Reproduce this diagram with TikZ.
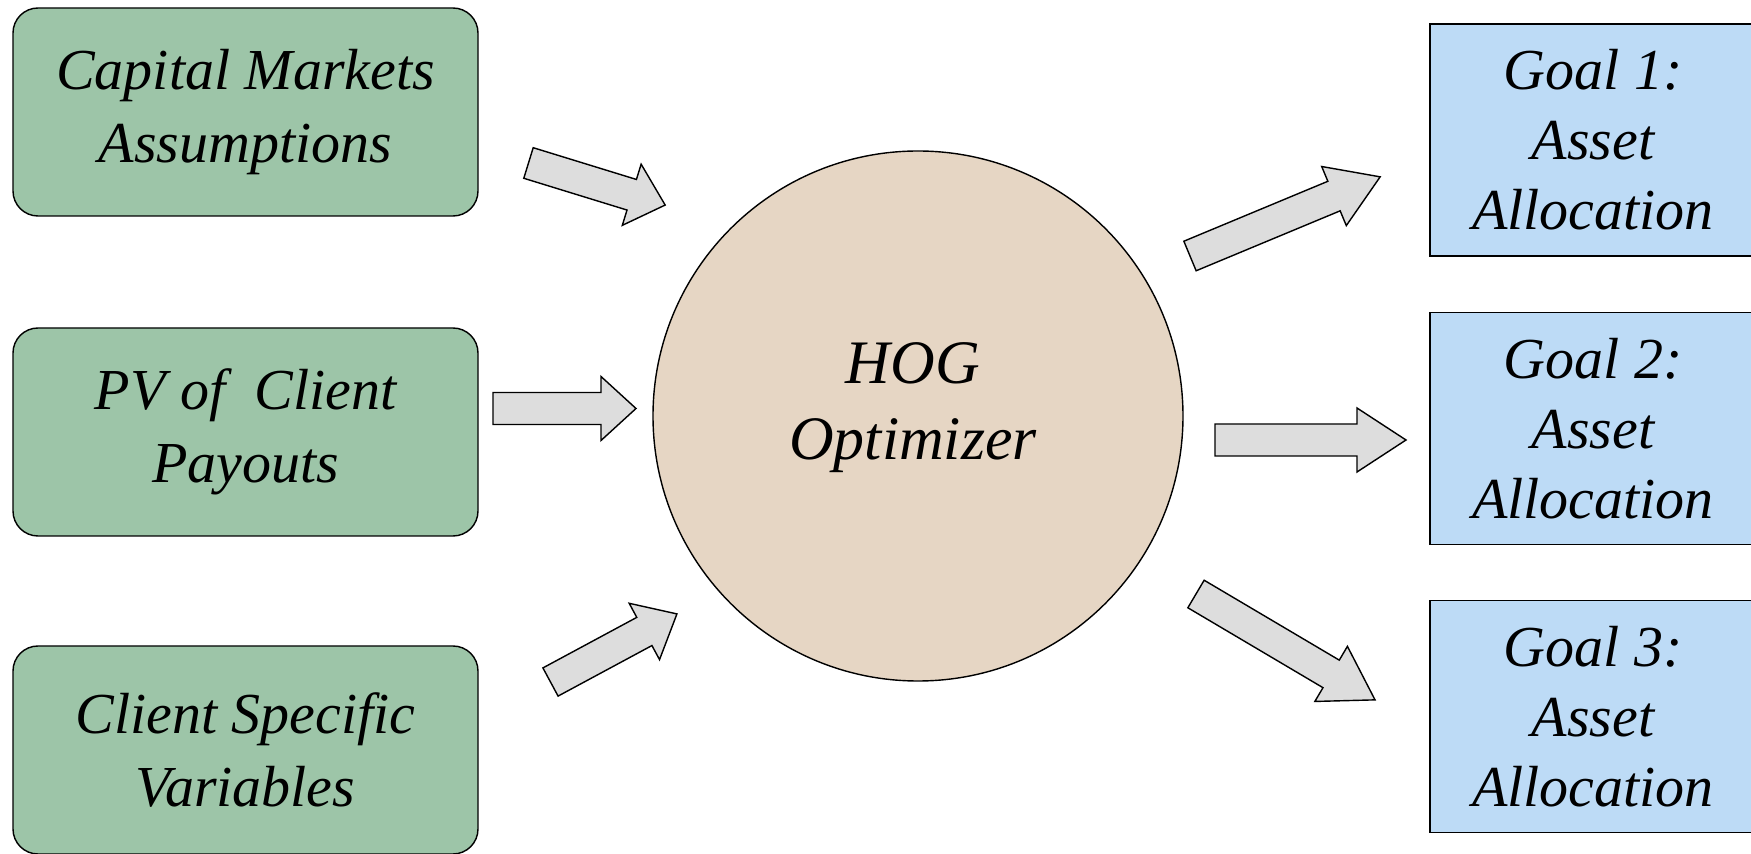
\documentclass[tikz,border=0pt]{standalone}
\usepackage{fontspec}
\setmainfont{Liberation Serif}
\definecolor{inputgreen}{HTML}{9DC5A8}
\definecolor{goalblue}{HTML}{BDDBF6}
\definecolor{optimtan}{HTML}{E6D6C4}
\definecolor{arrowgray}{HTML}{DDDDDD}
\tikzset{
	inbox/.style={draw, rounded corners=0.25cm, fill=inputgreen, minimum width=4.65cm, minimum height=2.08cm, align=center, font=\itshape\fontsize{16.5}{20.8}\selectfont},
	goalbox/.style={draw, fill=goalblue, minimum width=3.26cm, minimum height=2.32cm, align=center, font=\itshape\fontsize{16.5}{19.9}\selectfont},
	optim/.style={draw, circle, fill=optimtan, minimum size=5.3cm},
	optimtext/.style={align=center, font=\itshape\fontsize{17.6}{21.6}\selectfont},
	blockarrow/.style={draw, fill=arrowgray, line join=miter}
}
% tail, angle, length, head length
\newcommand{\fatarrow}[4]{%
	\begin{scope}[shift={(#1)}, rotate=#2]
		\draw[blockarrow] (0,-0.16) -- ({#3-#4},-0.16) -- ({#3-#4},-0.32) -- (#3,0) -- ({#3-#4},0.32) -- ({#3-#4},0.16) -- (0,0.16) -- cycle;
	\end{scope}}
\begin{document}
\begin{tikzpicture}
				\path[use as bounding box, fill=white] (0,0) rectangle (17.51,8.54);
				\clip (0,0) rectangle (17.51,8.54);
				\node[inbox] (cma) at (2.455,7.42) {Capital Markets\\Assumptions};
				\node[inbox] (pv) at (2.455,4.22) {PV of\ \ Client\\Payouts};
				\node[inbox] (csv) at (2.455,1.04) {Client Specific\\Variables};
				\node[optim] (hog) at (9.18,4.38) {};
				\node[optimtext] (hoglabel) at ([xshift=-0.05cm,yshift=0.08cm]hog.center) {HOG\\Optimizer};
				\node[goalbox] (goal1) at (15.93,7.14) {Goal 1:\\Asset\\Allocation};
				\node[goalbox] (goal2) at (15.93,4.255) {Goal 2:\\Asset\\Allocation};
				\node[goalbox] (goal3) at (15.93,1.375) {Goal 3:\\Asset\\Allocation};
				\fatarrow{5.285,6.91}{-17.1}{1.43}{0.35}
				\fatarrow{4.93,4.455}{0}{1.43}{0.35}
				\fatarrow{5.505,1.72}{28.3}{1.436}{0.37}
				\fatarrow{11.90,5.98}{22.6}{2.06}{0.50}
				\fatarrow{12.15,4.14}{0}{1.91}{0.49}
				\fatarrow{11.96,2.60}{-30.6}{2.08}{0.51}
\end{tikzpicture}
\end{document}
